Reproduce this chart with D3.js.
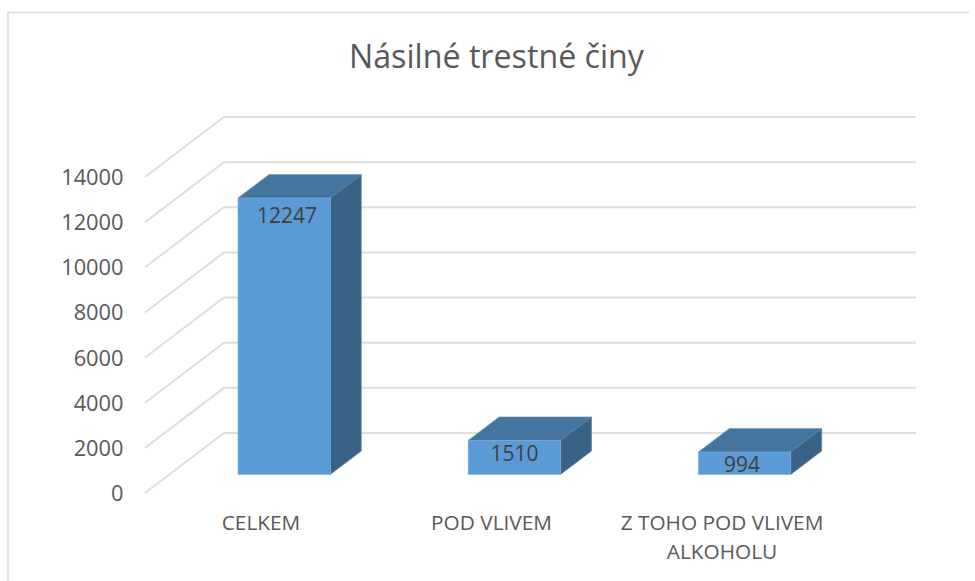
<!DOCTYPE html>
<html><head><meta charset="utf-8">
<script src="https://cdn.jsdelivr.net/npm/d3@7"></script>
<style>html,body{margin:0;padding:0;background:#fff}svg{display:block}text{font-family:"Open Sans",sans-serif}</style>
</head><body>
<svg id="c" width="975" height="581"></svg>
<script>
const titleText = "Násilné trestné činy";
const categories = ["CELKEM", "POD VLIVEM", "Z TOHO POD VLIVEM ALKOHOLU"];
const categoryLines = [["CELKEM"], ["POD VLIVEM"], ["Z TOHO POD VLIVEM", "ALKOHOLU"]];
const values = [12247, 1510, 994];
const yTicks = [0, 2000, 4000, 6000, 8000, 10000, 12000, 14000];

const svg = d3.select("#c");
const W = 975, H = 581;
svg.append("path").attr("d", `M8,${H}V12.5H${W-6}`).attr("fill", "none").attr("stroke", "#dcdcdc").attr("stroke-width", 1.6);

svg.append("text").attr("x", 496.5).attr("y", 68).attr("text-anchor", "middle")
  .attr("font-size", 32.2).attr("fill", "#595959").text(titleText);

const y = d3.scaleLinear().domain([0, 14000]).range([433, 117]);
const wallLeft = 224, wallRight = 916, floorDx = -79, floorDy = 60;
const grid = svg.append("g").attr("fill", "none").attr("stroke", "#dedede").attr("stroke-width", 2);
yTicks.forEach(t => {
  grid.append("path").attr("d", `M${wallLeft + floorDx},${y(t) + floorDy}L${wallLeft},${y(t)}H${wallRight}`);
});
svg.append("g").attr("font-size", 21.8).attr("fill", "#595959").attr("text-anchor", "end")
  .selectAll("text").data(yTicks).join("text")
  .attr("x", 123.5).attr("y", d => y(d) + floorDy + 8).text(d => d);

const bw = 92.3, step = 230.2, firstBar = 238;
const x = d3.scaleBand().domain(categories)
  .range([firstBar - (step - bw) / 2, firstBar - (step - bw) / 2 + 3 * step])
  .paddingInner(1 - bw / step).paddingOuter((1 - bw / step) / 2);
const barDx = 31, barDy = -23.5, barFrontDy = 41.5;
const valueX = d3.scalePoint().domain(categories).range([287, 742]);
const labelOffset = [25, 21, 19.5];
const bars = svg.append("g").selectAll("g").data(values).join("g");
bars.each(function (v, i) {
  const g = d3.select(this);
  const x0 = x(categories[i]), x1 = x0 + x.bandwidth();
  const yb = y(0) + barFrontDy, yt = y(v) + barFrontDy;
  g.append("polygon").attr("fill", "#44759f").attr("stroke", "#6d93b6").attr("stroke-width", 0.6)
    .attr("points", [[x0, yt], [x0 + barDx, yt + barDy], [x1 + barDx, yt + barDy], [x1, yt]].join(" "));
  g.append("polygon").attr("fill", "#396386").attr("stroke", "#5d82a3").attr("stroke-width", 0.6)
    .attr("points", [[x1, yt], [x1 + barDx, yt + barDy], [x1 + barDx, yb + barDy], [x1, yb]].join(" "));
  g.append("rect").attr("x", x0).attr("y", yt).attr("width", x.bandwidth()).attr("height", yb - yt)
    .attr("fill", "#5b9bd5").attr("stroke", "#79aedd").attr("stroke-width", 0.6);
  g.append("text").attr("x", valueX(categories[i])).attr("y", yt + labelOffset[i])
    .attr("text-anchor", "middle").attr("font-size", 21).attr("fill", "#404040").text(v);
});

const labelX = d3.scalePoint().domain(categories).range([261, 722]);
const lab = svg.append("g").attr("font-size", 20.8).attr("fill", "#595959").attr("text-anchor", "middle");
categoryLines.forEach((lines, i) => {
  lines.forEach((s, j) => {
    lab.append("text").attr("x", labelX(categories[i])).attr("y", 530 + j * 29).text(s);
  });
});
</script>
</body></html>
